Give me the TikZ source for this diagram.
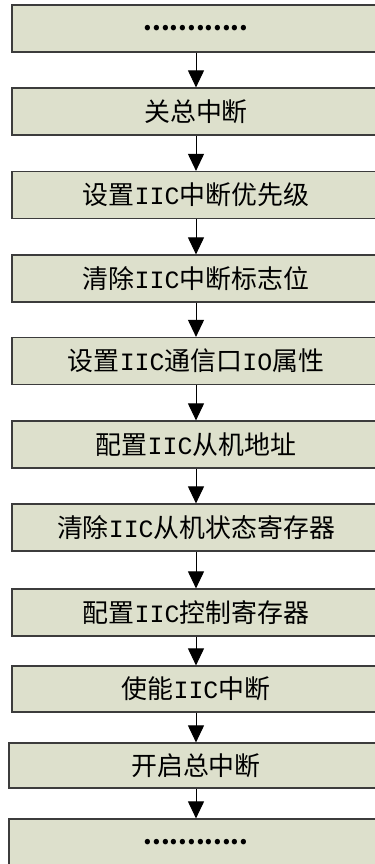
\documentclass[tikz,border=0pt]{standalone}
\usepackage{fontspec}
\setmainfont{Noto Sans CJK SC}
\newfontfamily\latinmono{Liberation Mono}
\usepackage{tikz}
\usetikzlibrary{arrows.meta, positioning}
\definecolor{boxfill}{RGB}{221,224,204}
\definecolor{boxline}{RGB}{60,60,60}
\newcommand{\lat}[1]{{\latinmono\fontsize{25}{26}\selectfont #1}}

\begin{document}
\begin{tikzpicture}[
        x=1bp, y=-1bp,
        >={Triangle[width=16bp, length=17bp]},
        stepbox/.style={rectangle, draw=boxline, fill=boxfill, line width=1.2bp, minimum width=368bp, minimum height=47bp, inner sep=0pt, font=\fontsize{26}{28}\selectfont},
        widebox/.style={stepbox, minimum width=374bp, minimum height=45bp},
        dots/.style={font=\fontsize{25}{28}\selectfont\bfseries},
        line/.style={->, black, line width=1bp}
    ]
        \useasboundingbox (0,0) rectangle (374,864);

        % ================= NODES =================

        \node[stepbox, dots] (dotsa) at (196, 28.5) {............};
        \node[stepbox] (offint) at (196, 111.5) {关总中断};
        \node[stepbox] (prio) at (196, 195) {设置\lat{IIC}中断优先级};
        \node[stepbox] (clrflag) at (196, 278.5) {清除\lat{IIC}中断标志位};
        \node[stepbox] (ioattr) at (196, 361) {设置\lat{IIC}通信口\lat{IO}属性};
        \node[stepbox] (addr) at (196, 444.5) {配置\lat{IIC}从机地址};
        \node[stepbox] (clrstat) at (196, 527.5) {清除\lat{IIC}从机状态寄存器};
        \node[stepbox] (ctrl) at (196, 612.5) {配置\lat{IIC}控制寄存器};
        \node[stepbox, minimum height=46bp] (enint) at (196, 689) {使能\lat{IIC}中断};

        % last two are a bit wider
        \node[widebox] (onint) at (196, 765.5) {开启总中断};
        \node[widebox, dots, minimum height=47bp] (dotsb) at (196, 842.5) {............};

        % ================= EDGES =================

        \draw[line] (dotsa) -- (offint);
        \draw[line] (offint) -- (prio);
        \draw[line] (prio) -- (clrflag);
        \draw[line] (clrflag) -- (ioattr);
        \draw[line] (ioattr) -- (addr);
        \draw[line] (addr) -- (clrstat);
        \draw[line] (clrstat) -- (ctrl);
        \draw[line] (ctrl) -- (enint);
        \draw[line] (enint) -- (onint);
        \draw[line] (onint) -- (dotsb);

    \end{tikzpicture}
\end{document}
